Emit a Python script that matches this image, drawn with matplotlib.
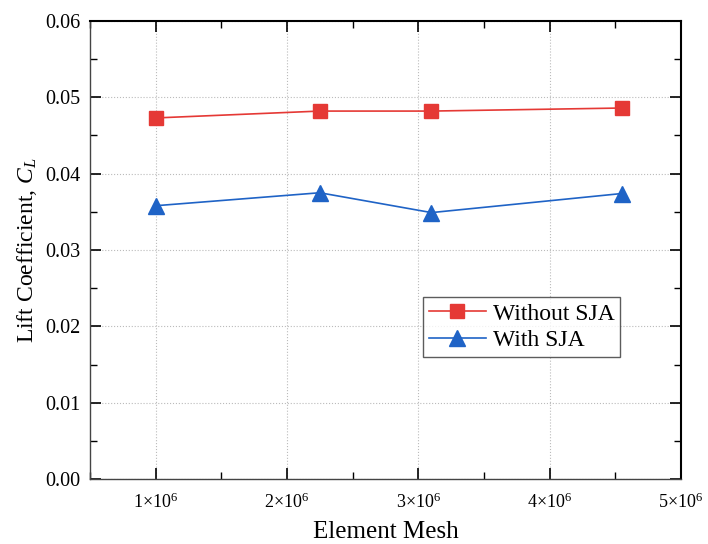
import numpy as np
import matplotlib
matplotlib.use("Agg")
import matplotlib.pyplot as plt
from matplotlib.ticker import MultipleLocator, FuncFormatter

plt.rcParams['font.family'] = ['Liberation Serif', 'DejaVu Serif']
plt.rcParams['mathtext.fontset'] = 'custom'
plt.rcParams['mathtext.rm'] = 'Liberation Serif'
plt.rcParams['mathtext.it'] = 'Liberation Serif:italic'

# data
mesh = [1.0e6, 2.25e6, 3.1e6, 4.55e6]
cl_without = [0.0473, 0.0482, 0.0482, 0.0486]
cl_with = [0.0358, 0.0375, 0.0349, 0.0374]

fig = plt.figure(figsize=(7.08, 5.44), dpi=100)
ax = fig.add_axes([90/708, 65/544, 591/708, 458/544])

ax.plot(mesh, cl_without, color='#e53935', marker='s', markersize=10,
        linewidth=1.2, label='Without SJA')
ax.plot(mesh, cl_with, color='#1f63c6', marker='^', markersize=11,
        linewidth=1.2, label='With SJA')

ax.set_xlim(0.5e6, 5e6)
ax.set_ylim(0, 0.06)
ax.xaxis.set_major_locator(MultipleLocator(1e6))
ax.xaxis.set_minor_locator(MultipleLocator(0.5e6))
ax.yaxis.set_major_locator(MultipleLocator(0.01))
ax.yaxis.set_minor_locator(MultipleLocator(0.005))
ax.xaxis.set_major_formatter(FuncFormatter(lambda v, p: r'%d$\times$10$^6$' % round(v / 1e6)))
ax.yaxis.set_major_formatter(FuncFormatter(lambda v, p: '%.2f' % v))

ax.tick_params(which='both', direction='in', top=True, right=True)
ax.tick_params(axis='y', labelsize=14.5, pad=7)
ax.tick_params(axis='x', labelsize=13, pad=10)
ax.tick_params(which='major', length=8, width=1.2)
ax.tick_params(which='minor', length=5, width=1.0)

ax.grid(True, which='major', linestyle=':', color='#bbbbbb', linewidth=0.8)

for s in ['left', 'bottom']:
    ax.spines[s].set_color('#444444')
    ax.spines[s].set_linewidth(1.0)
for s in ['top', 'right']:
    ax.spines[s].set_color('black')
    ax.spines[s].set_linewidth(1.5)

ax.set_xlabel('Element Mesh', fontsize=18, labelpad=6)
ax.set_ylabel(r'Lift Coefficient, $C_L$', fontsize=17, labelpad=4)

leg = ax.legend(loc='upper left', bbox_to_anchor=(0.5635, 0.397), fontsize=17,
                frameon=True, fancybox=False, edgecolor='#333333',
                handlelength=2.4, handletextpad=0.3, borderpad=0.25,
                labelspacing=0.2, borderaxespad=0)
leg.get_frame().set_linewidth(1.0)

fig.savefig('out.png', dpi=100)
